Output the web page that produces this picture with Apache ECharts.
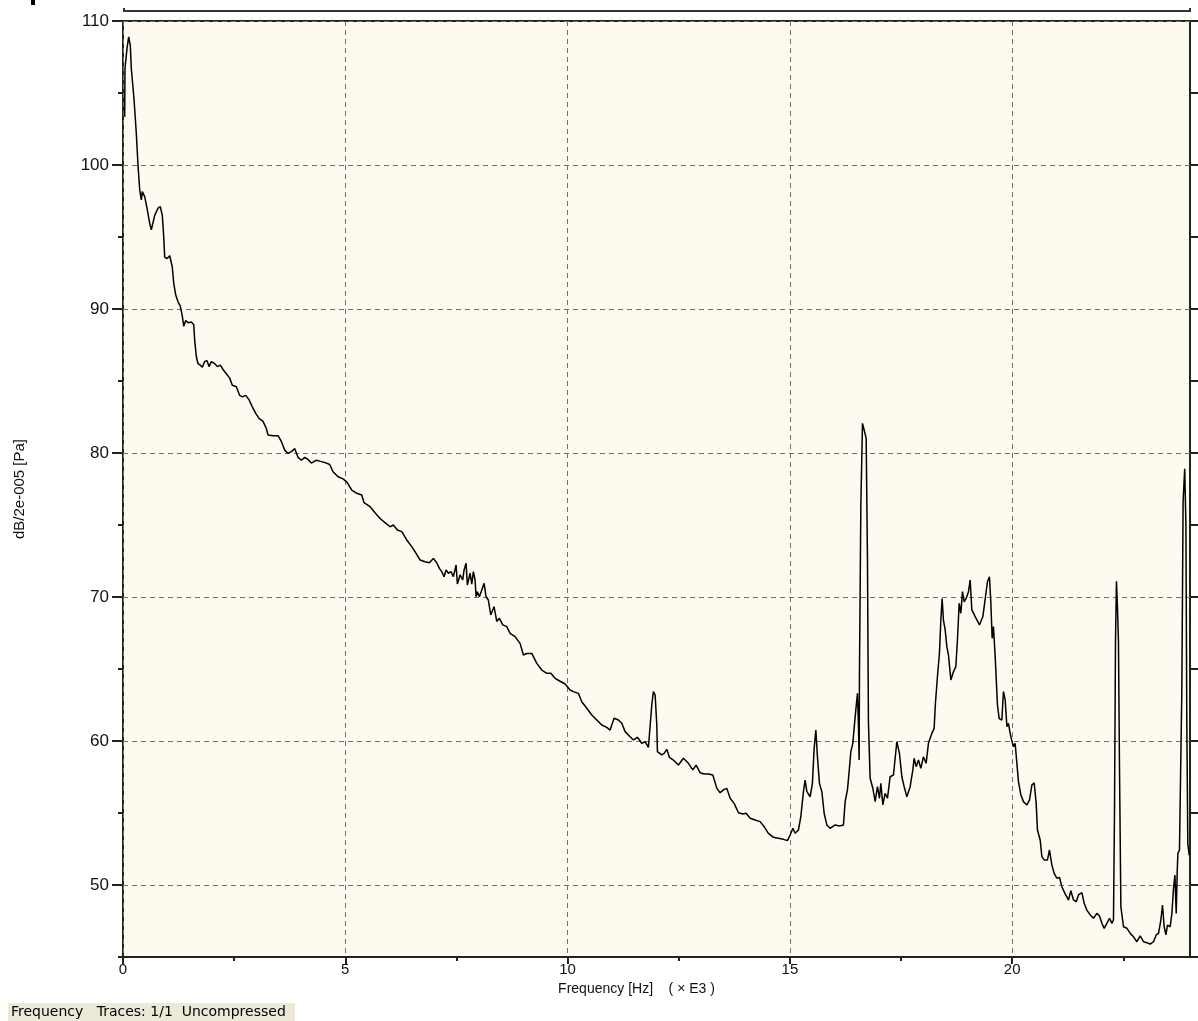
<!DOCTYPE html>
<html>
<head>
<meta charset="utf-8">
<script src="https://cdn.jsdelivr.net/npm/echarts@6/dist/echarts.min.js"></script>
<style>
html,body{margin:0;padding:0;background:#fff;}
#chart{width:1198px;height:1021px;}
</style>
</head>
<body>
<div id="chart"></div>
<script>
// Frequency in kHz (axis shows "x E3")
const freqKHz = [
0.038,0.045,0.090,0.128,0.164,0.187,0.247,0.299,0.337,0.376,0.412,0.434,0.488,0.540,0.601,0.637,0.713,0.787,0.839,0.884,
0.916,0.938,0.990,1.051,1.109,1.141,1.186,1.237,1.289,1.334,1.366,1.411,1.462,1.537,1.591,1.613,1.649,1.687,1.739,1.784,
1.838,1.890,1.935,1.987,2.063,2.121,2.189,2.250,2.324,2.400,2.459,2.549,2.625,2.684,2.760,2.835,2.909,2.985,3.060,3.150,
3.224,3.262,3.375,3.487,3.561,3.638,3.712,3.786,3.863,3.937,4.011,4.088,4.162,4.236,4.349,4.461,4.574,4.650,4.724,4.837,
4.949,5.033,5.145,5.258,5.370,5.422,5.557,5.669,5.782,5.894,6.007,6.081,6.171,6.270,6.382,6.495,6.592,6.682,6.794,6.891,
6.981,7.057,7.116,7.170,7.222,7.267,7.318,7.379,7.431,7.492,7.521,7.582,7.642,7.672,7.717,7.746,7.807,7.845,7.881,7.919,
7.942,7.971,8.016,8.070,8.122,8.166,8.218,8.272,8.317,8.346,8.407,8.466,8.542,8.632,8.706,8.819,8.931,9.006,9.082,9.195,
9.307,9.420,9.532,9.622,9.719,9.831,9.944,10.056,10.130,10.243,10.319,10.432,10.544,10.657,10.769,10.882,10.956,11.046,11.143,11.219,
11.294,11.406,11.480,11.570,11.669,11.744,11.818,11.840,11.894,11.930,11.969,12.007,12.020,12.119,12.171,12.232,12.290,12.380,12.493,12.605,
12.718,12.817,12.891,12.981,13.071,13.168,13.267,13.357,13.431,13.521,13.582,13.656,13.746,13.843,13.942,14.016,14.106,14.218,14.331,14.421,
14.517,14.630,14.742,14.855,14.945,15.006,15.066,15.118,15.192,15.246,15.305,15.343,15.382,15.456,15.507,15.546,15.584,15.620,15.665,15.719,
15.771,15.831,15.906,16.018,16.115,16.205,16.243,16.295,16.333,16.371,16.416,16.445,16.490,16.520,16.542,16.558,16.565,16.596,16.633,16.671,
16.716,16.745,16.767,16.805,16.866,16.918,16.970,17.015,17.046,17.091,17.143,17.195,17.255,17.330,17.406,17.465,17.519,17.570,17.631,17.705,
17.766,17.795,17.840,17.892,17.946,18.004,18.065,18.117,18.193,18.245,18.274,18.319,18.364,18.396,18.425,18.454,18.493,18.531,18.567,18.621,
18.679,18.733,18.769,18.808,18.846,18.882,18.920,18.965,19.017,19.055,19.093,19.168,19.264,19.341,19.415,19.444,19.489,19.521,19.550,19.579,
19.618,19.669,19.708,19.768,19.804,19.843,19.881,19.917,19.955,19.989,20.029,20.067,20.106,20.142,20.196,20.254,20.331,20.389,20.443,20.495,
20.540,20.569,20.630,20.668,20.720,20.794,20.839,20.893,20.945,21.005,21.064,21.118,21.192,21.267,21.320,21.379,21.440,21.492,21.568,21.620,
21.680,21.755,21.829,21.905,21.964,22.018,22.070,22.130,22.189,22.243,22.279,22.302,22.324,22.346,22.369,22.391,22.414,22.445,22.504,22.580,
22.655,22.729,22.805,22.880,22.954,23.030,23.105,23.179,23.240,23.292,23.345,23.381,23.419,23.458,23.494,23.554,23.593,23.629,23.661,23.690,
23.713,23.728,23.763,23.793,23.816,23.845,23.881,23.908,23.928,23.951,23.982
];
// Sound level, dB re 2e-5 Pa
const levelDb = [
103.35,106.7,108.1,108.9,108.3,106.7,104.6,102.2,100.0,98.26,97.57,98.15,97.8,97.0,95.95,95.5,96.5,97.0,97.1,96.5,
95.0,93.6,93.5,93.7,92.9,91.8,90.97,90.5,90.2,89.5,88.8,89.2,89.05,89.1,88.9,87.8,86.7,86.2,86.1,85.95,
86.35,86.4,86.0,86.35,86.2,86.0,86.1,85.8,85.5,85.2,84.7,84.6,84.0,83.9,84.0,83.7,83.2,82.75,82.4,82.2,
81.7,81.25,81.2,81.2,80.8,80.2,79.97,80.1,80.3,79.7,79.5,79.7,79.55,79.3,79.5,79.4,79.3,79.2,78.7,78.35,
78.2,78.0,77.43,77.2,77.08,76.55,76.27,75.85,75.46,75.16,74.88,75.0,74.65,74.54,73.96,73.5,73.03,72.57,72.45,72.38,
72.68,72.38,71.99,71.76,71.41,71.88,71.65,71.76,71.41,72.22,70.9,71.53,71.18,71.88,72.34,70.83,71.65,70.9,71.76,71.18,
70.02,70.37,70.02,70.49,70.95,70.02,69.79,68.75,69.1,69.33,68.3,68.52,68.06,67.94,67.48,67.25,66.78,65.97,66.08,66.08,
65.39,64.93,64.7,64.7,64.35,64.15,63.96,63.54,63.43,63.31,62.73,62.27,61.81,61.46,61.11,60.95,60.76,61.58,61.46,61.23,
60.65,60.3,60.07,60.26,59.84,59.95,59.56,60.42,62.5,63.43,63.19,61.11,59.26,59.03,59.14,59.42,58.87,58.68,58.33,58.8,
58.45,57.99,58.33,57.8,57.71,57.71,57.64,56.71,56.41,56.64,56.71,56.02,55.67,55.02,54.93,54.98,54.63,54.51,54.4,54.05,
53.59,53.31,53.24,53.17,53.08,53.47,53.94,53.59,53.82,54.74,56.48,57.29,56.48,56.13,57.06,59.49,60.76,58.91,57.06,56.48,
54.98,54.17,53.94,54.17,54.1,54.17,55.79,56.6,57.87,59.26,59.84,60.88,62.38,63.31,61.11,58.68,64.58,76.27,82.06,81.6,
81.02,72.69,61.34,57.41,56.72,55.79,56.83,56.02,57.06,55.56,56.37,56.02,57.52,57.64,59.95,59.14,57.52,56.83,56.13,56.83,
57.99,58.8,58.22,58.68,58.1,58.91,58.45,59.84,60.53,60.88,62.62,64.47,66.09,68.4,69.9,68.4,67.71,66.55,65.97,64.24,
64.81,65.16,67.01,69.56,68.87,70.37,69.67,69.9,70.37,71.18,69.1,68.64,68.06,68.64,70.37,71.06,71.41,69.56,67.13,67.94,
65.86,62.5,61.55,61.46,63.43,62.85,61.0,61.23,60.53,60.07,59.6,59.84,58.45,57.18,56.25,55.79,55.56,55.9,56.94,57.1,
55.67,53.82,53.13,51.97,51.74,51.74,52.43,51.39,50.81,50.47,50.53,49.88,49.38,48.96,49.61,48.96,48.84,49.31,49.47,48.73,
48.26,47.92,47.69,48.03,47.85,47.34,46.99,47.34,47.69,47.34,47.57,55.2,66.9,71.1,69.2,66.9,58.2,48.5,47.1,47.0,
46.64,46.4,46.06,46.46,46.06,45.99,45.9,46.06,46.53,46.64,47.57,48.61,47.1,46.53,47.22,47.1,48.03,49.77,50.69,48.03,
51.0,52.2,52.43,52.55,63.43,76.65,78.9,75.05,61.46,52.85,52.08
];
const xMajorTicks = [0, 5, 10, 15, 20];
const xMinorTicks = [2.5, 7.5, 12.5, 17.5, 22.5];
const yMajorTicks = [50, 60, 70, 80, 90, 100, 110];
const xAxisName = 'Frequency [Hz]    ( \u00d7 E3 )';
const yAxisName = 'dB/2e-005 [Pa]';
const statusText = 'Frequency   Traces: 1/1  Uncompressed';

const seriesData = freqKHz.map((f, i) => [f, levelDb[i]]);

const FONT = '"Liberation Sans", Arial, sans-serif';
const dashed = { show: true, lineStyle: { color: '#707070', width: 1, type: [5, 4] } };

const chart = echarts.init(document.getElementById('chart'), null, { renderer: 'canvas' });
chart.setOption({
  animation: false,
  backgroundColor: '#ffffff',
  grid: {
    left: 123, top: 21, right: 8, bottom: 64,
    show: true, backgroundColor: '#FFFAEF', borderColor: '#222', borderWidth: 2,
    containLabel: false
  },
  xAxis: [
    {
      type: 'value', min: 0, max: 24, interval: 5, position: 'bottom',
      axisLine: { show: false },
      axisTick: { show: true, length: 7, customValues: xMajorTicks, lineStyle: { color: '#222', width: 2 } },
      axisLabel: { show: true, customValues: xMajorTicks, margin: 5, color: '#111', fontFamily: FONT, fontSize: 15 },
      splitLine: dashed,
      name: xAxisName, nameLocation: 'middle', nameGap: 20,
      nameTextStyle: { color: '#111', fontFamily: FONT, fontSize: 14, padding: [0, 40, 0, 0] }
    },
    {
      type: 'value', min: 0, max: 24, interval: 2.5, position: 'bottom',
      axisLine: { show: false },
      axisTick: { show: true, length: 4, customValues: xMinorTicks, lineStyle: { color: '#222', width: 2 } },
      axisLabel: { show: false },
      splitLine: { show: false }
    }
  ],
  yAxis: [
    {
      type: 'value', min: 45, max: 110, interval: 5, position: 'left',
      axisLine: { show: false },
      axisTick: { show: true, length: 11, customValues: yMajorTicks, lineStyle: { color: '#222', width: 2 } },
      axisLabel: { show: true, customValues: yMajorTicks, margin: 14, color: '#111', fontFamily: FONT, fontSize: 17 },
      splitLine: dashed,
      name: yAxisName, nameLocation: 'middle', nameGap: 96, nameRotate: 90,
      nameTextStyle: { color: '#111', fontFamily: FONT, fontSize: 15 }
    },
    {
      type: 'value', min: 45, max: 110, interval: 5, position: 'left',
      axisLine: { show: false },
      axisTick: { show: true, length: 5, lineStyle: { color: '#222', width: 2 } },
      axisLabel: { show: false },
      splitLine: { show: false }
    },
    {
      type: 'value', min: 45, max: 110, interval: 5, position: 'right',
      axisLine: { show: false },
      axisTick: { show: true, length: 8, lineStyle: { color: '#222', width: 2 } },
      axisLabel: { show: false },
      splitLine: { show: false }
    }
  ],
  series: [{
    type: 'line', xAxisIndex: 0, yAxisIndex: 0,
    data: seriesData, showSymbol: false, symbol: 'none',
    lineStyle: { color: '#000', width: 1.5 },
    z: 5
  }],
  graphic: [
    { type: 'polyline', shape: { points: [[124, 8], [124, 11], [1190, 11], [1190, 8]] },
      style: { stroke: '#333', lineWidth: 2, fill: null } },
    { type: 'rect', shape: { x: 31, y: 0, width: 4, height: 5 }, style: { fill: '#000' } },
    { type: 'rect', shape: { x: 8, y: 1003, width: 287, height: 18 }, style: { fill: '#ECE9D8' } },
    { type: 'text', x: 11, y: 1005, style: { text: statusText, fill: '#000', font: '14px "DejaVu Sans", sans-serif' } }
  ]
});
</script>
</body>
</html>
